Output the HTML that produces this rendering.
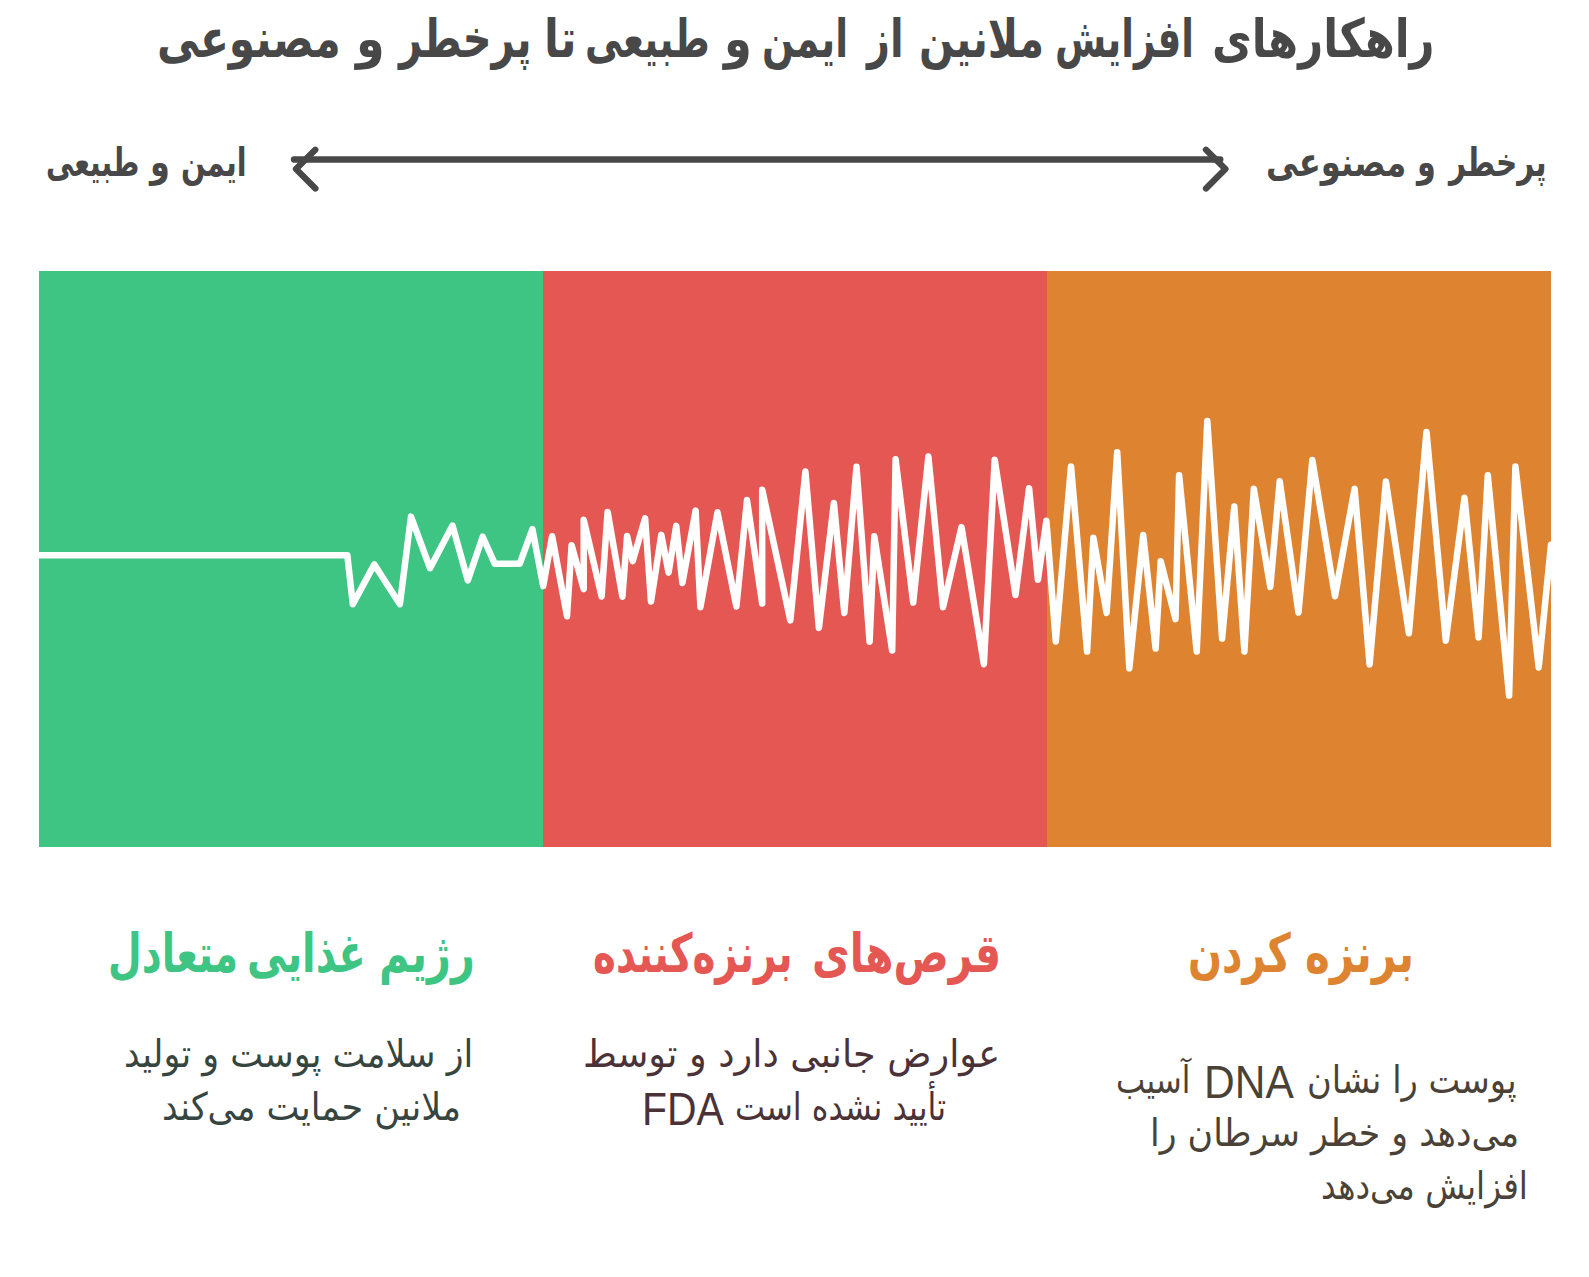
<!DOCTYPE html>
<html lang="fa"><head><meta charset="utf-8"><title>راهکارهای افزایش ملانین</title>
<style>
html,body{margin:0;padding:0;background:#fff}
body{width:1589px;height:1277px;position:relative;overflow:hidden;font-family:"Liberation Sans","DejaVu Sans",sans-serif}
svg{position:absolute;left:0;top:0}
.t{position:absolute;white-space:nowrap;line-height:1;transform-origin:0 0;margin:0;padding:0}
.b{font-family:"DejaVu Sans",sans-serif;font-weight:bold}
.r{font-family:"DejaVu Sans",sans-serif;font-weight:normal}
.l{font-family:"Liberation Sans",sans-serif;font-weight:normal}
</style></head><body>
<svg width="1589" height="1277" viewBox="0 0 1589 1277">
<rect x="39" y="271" width="504" height="576" fill="#3ec483"/>
<rect x="543" y="271" width="504" height="576" fill="#e55753"/>
<rect x="1047" y="271" width="504" height="576" fill="#de8431"/>
<polyline points="39,555.2 347.3,555.2 352.8,604.2 374.3,564.4 399.9,604.2 411,516.6 430,568.2 452.5,525.6 467.8,580.4 482.7,536.7 494.8,563.8 519.7,563.8 532.4,529.1 543.2,586.1 552.1,536.2 567,616.2 571.6,545.2 583.7,589.2 583.7,519.8 601.6,596.5 607.6,511.9 622.4,596.7 627.1,535.9 632.7,561.1 645.1,518.3 651,601.6 661.3,534.9 668.6,572.6 676.2,525.9 682.4,583 695.6,510.6 700.4,607.2 717.5,512.3 736.4,606.5 747,500.1 762.2,603.5 762.2,489.7 790.3,620.4 805.4,471.5 818.9,627.9 833.9,502.9 844.3,612.9 856.5,466.8 869.6,641.7 874.3,536.3 892.2,650.5 895.6,459.3 913.2,602.6 928.4,456.5 943,607.2 961.5,527.1 983.9,664.2 994.7,459.7 1015.5,595 1029.1,488.2 1037.9,579.8 1046.4,520.8 1055.8,641.4 1071,466.4 1087.1,651.6 1093.4,537.7 1106.6,612.9 1117.2,452.2 1129.3,668.3 1143.2,535.1 1155.6,648.5 1160.7,561.2 1175.5,619.1 1179.1,475.2 1196.7,651.5 1207.3,421.1 1222.1,638.6 1234.3,506.5 1244.4,651.5 1253.8,488.8 1270.3,586.9 1279.7,481.3 1298.5,612.5 1312.3,460.1 1335,596.2 1354.6,488.7 1369.6,664.5 1385.9,481.5 1408.9,633.2 1426.5,431.9 1445.8,640.7 1464.5,497.8 1478.6,637.4 1487.8,475.2 1509.1,695.6 1515.4,466.4 1538.7,667.5 1551,544.8" fill="none" stroke="#fff" stroke-width="6.5" stroke-linejoin="round" stroke-linecap="round"/>
<g fill="none" stroke="#484848" stroke-width="6.3" stroke-linecap="round" stroke-linejoin="round">
<line x1="294" y1="159.5" x2="1220.3" y2="159.5"/>
<polyline points="315.3,149.8 296,169 315.4,188.5"/>
<polyline points="1206,149.8 1225.4,169 1206,188.5"/>
</g>
</svg>
<div id="title_1" class="t b" dir="rtl" style="left:1212.24px;top:11.77px;font-size:47.5px;color:#484848;transform:scale(0.9135,1.12)">راهکارهای</div>
<div id="title_2" class="t b" dir="rtl" style="left:1055.34px;top:11.77px;font-size:47.5px;color:#484848;transform:scale(0.78,1.12)">افزایش</div>
<div id="title_3" class="t b" dir="rtl" style="left:918.84px;top:11.77px;font-size:47.5px;color:#484848;transform:scale(0.8601,1.12)">ملانین</div>
<div id="title_4" class="t b" dir="rtl" style="left:867.03px;top:11.77px;font-size:47.5px;color:#484848;transform:scale(0.8384,1.12)">از</div>
<div id="title_5" class="t b" dir="rtl" style="left:762.03px;top:11.77px;font-size:47.5px;color:#484848;transform:scale(0.7923,1.12)">ایمن</div>
<div id="title_6" class="t b" dir="rtl" style="left:723.81px;top:11.77px;font-size:47.5px;color:#484848;transform:scale(0.9437,1.12)">و</div>
<div id="title_7" class="t b" dir="rtl" style="left:585.27px;top:11.77px;font-size:47.5px;color:#484848;transform:scale(0.7882,1.12)">طبیعی</div>
<div id="title_8" class="t b" dir="rtl" style="left:543.81px;top:11.77px;font-size:47.5px;color:#484848;transform:scale(0.9111,1.12)">تا</div>
<div id="title_9" class="t b" dir="rtl" style="left:398.62px;top:11.77px;font-size:47.5px;color:#484848;transform:scale(0.8411,1.12)">پرخطر</div>
<div id="title_10" class="t b" dir="rtl" style="left:356.22px;top:11.77px;font-size:47.5px;color:#484848;transform:scale(0.9722,1.12)">و</div>
<div id="title_11" class="t b" dir="rtl" style="left:156.63px;top:11.77px;font-size:47.5px;color:#484848;transform:scale(0.8925,1.12)">مصنوعی</div>
<div id="lab_l_1" class="t b" dir="rtl" style="left:180.87px;top:141.96px;font-size:35.8px;color:#484848;transform:scale(0.8013,1.12)">ایمن</div>
<div id="lab_l_2" class="t b" dir="rtl" style="left:149.96px;top:141.96px;font-size:35.8px;color:#484848;transform:scale(0.893,1.12)">و</div>
<div id="lab_l_3" class="t b" dir="rtl" style="left:46.17px;top:141.96px;font-size:35.8px;color:#484848;transform:scale(0.7809,1.12)">طبیعی</div>
<div id="lab_r_1" class="t b" dir="rtl" style="left:1448.98px;top:141.76px;font-size:35.8px;color:#484848;transform:scale(0.8229,1.12)">پرخطر</div>
<div id="lab_r_2" class="t b" dir="rtl" style="left:1417.06px;top:141.76px;font-size:35.8px;color:#484848;transform:scale(0.8458,1.12)">و</div>
<div id="lab_r_3" class="t b" dir="rtl" style="left:1266.24px;top:141.76px;font-size:35.8px;color:#484848;transform:scale(0.9034,1.12)">مصنوعی</div>
<div id="h1_1" class="t b" dir="rtl" style="left:379.43px;top:925.89px;font-size:48px;color:#3ec483;transform:scale(0.8631,1.12)">رژیم</div>
<div id="h1_2" class="t b" dir="rtl" style="left:247.17px;top:925.89px;font-size:48px;color:#3ec483;transform:scale(0.8266,1.12)">غذایی</div>
<div id="h1_3" class="t b" dir="rtl" style="left:108.49px;top:925.89px;font-size:48px;color:#3ec483;transform:scale(0.8091,1.12)">متعادل</div>
<div id="h2_1" class="t b" dir="rtl" style="left:811.55px;top:925.59px;font-size:48px;color:#e55753;transform:scale(0.8558,1.12)">قرص‌های</div>
<div id="h2_2" class="t b" dir="rtl" style="left:592.68px;top:925.59px;font-size:48px;color:#e55753;transform:scale(0.8074,1.12)">برنزه‌کننده</div>
<div id="h3_1" class="t b" dir="rtl" style="left:1304.5px;top:925.79px;font-size:48px;color:#de8431;transform:scale(0.8779,1.12)">برنزه</div>
<div id="h3_2" class="t b" dir="rtl" style="left:1188.49px;top:925.79px;font-size:48px;color:#de8431;transform:scale(0.8317,1.12)">کردن</div>
<div id="b1a" class="t r" dir="rtl" style="left:124.25px;top:1034.8px;font-size:36px;color:#374541;transform:scale(0.9691,1.06)">از سلامت پوست و تولید</div>
<div id="b1b" class="t r" dir="rtl" style="left:162.27px;top:1087.5px;font-size:36px;color:#374541;transform:scale(0.9719,1.06)">ملانین حمایت می‌کند</div>
<div id="b2a" class="t r" dir="rtl" style="left:582.65px;top:1034.8px;font-size:36px;color:#4a3237;transform:scale(1.0155,1.06)">عوارض جانبی دارد و توسط</div>
<div id="b2b" class="t r" dir="rtl" style="left:735.17px;top:1087.5px;font-size:36px;color:#4a3237;transform:scale(0.8828,1.06)">تأیید نشده است</div>
<div id="b2c" class="t l" dir="ltr" style="left:641.83px;top:1085.62px;font-size:46.4px;color:#4a3237;transform:scale(0.8823,1)">FDA</div>
<div id="b3a" class="t r" dir="rtl" style="left:1307.38px;top:1061.2px;font-size:36px;color:#4a4237;transform:scale(0.9357,1.06)">پوست را نشان</div>
<div id="b3d" class="t l" dir="ltr" style="left:1204.45px;top:1058.62px;font-size:46.4px;color:#4a4237;transform:scale(0.9161,1)">DNA</div>
<div id="b3e" class="t r" dir="rtl" style="left:1116.32px;top:1061.2px;font-size:36px;color:#4a4237;transform:scale(0.8603,1.06)">آسیب</div>
<div id="b3b" class="t r" dir="rtl" style="left:1149.83px;top:1114.2px;font-size:36px;color:#4a4237;transform:scale(0.9676,1.06)">می‌دهد و خطر سرطان را</div>
<div id="b3c" class="t r" dir="rtl" style="left:1320.68px;top:1167.2px;font-size:36px;color:#4a4237;transform:scale(0.909,1.06)">افزایش می‌دهد</div>
</body></html>
